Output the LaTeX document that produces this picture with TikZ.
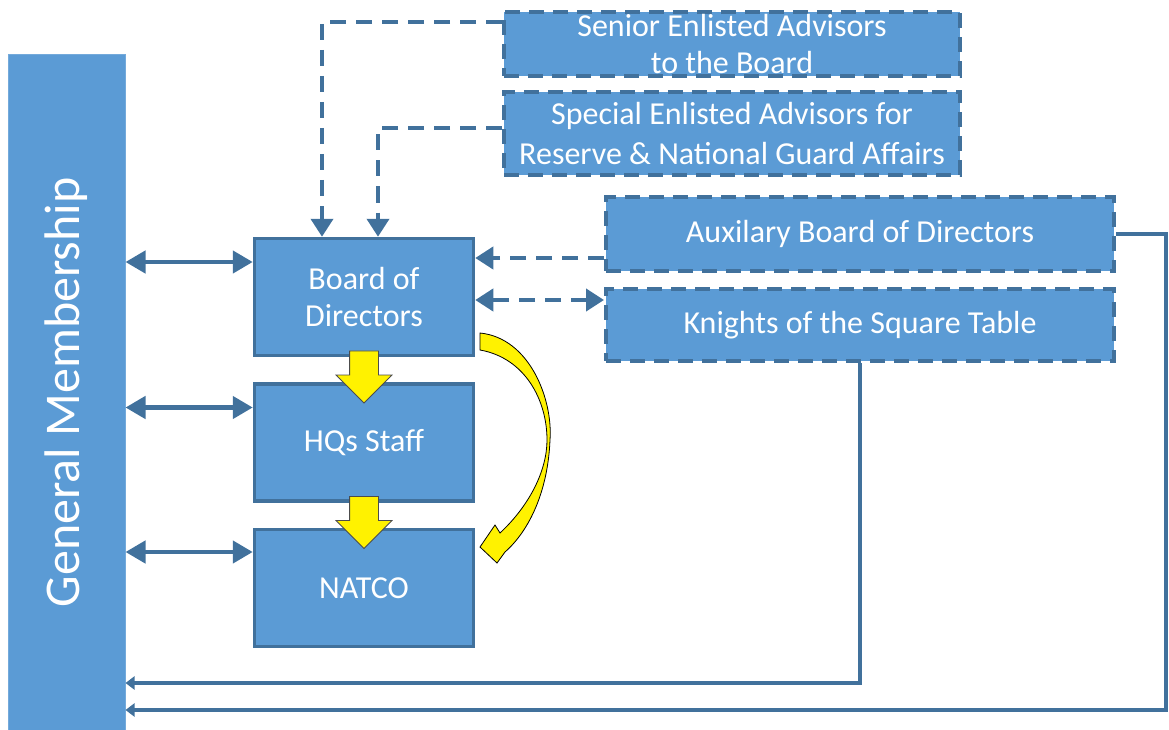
\documentclass[tikz,border=0pt]{standalone}
\usepackage{fontspec}
\setmainfont{Carlito}
\usepackage{tikz}
\usetikzlibrary{arrows.meta, positioning, shapes.arrows, calc}
\definecolor{boxfill}{HTML}{5B9BD5}
\definecolor{boxline}{HTML}{41719C}
\definecolor{linkblue}{HTML}{41719C}

\begin{document}
\begin{tikzpicture}[
		x=1pt, y=-1pt,
		member/.style={
			rectangle,
			draw=boxfill!85!white,
			line width=1pt,
			fill=boxfill,
			minimum width=117pt,
			minimum height=675pt,
			inner sep=0pt
		},
		unit/.style={
			rectangle,
			draw=boxline,
			line width=3.5pt,
			fill=boxfill,
			text=white,
			font=\fontsize{32}{37}\selectfont,
			minimum width=219pt,
			minimum height=117pt,
			inner sep=0pt,
			align=center
		},
		advisor/.style={
			unit,
			line width=4pt,
			dash pattern=on 15pt off 9pt
		},
		memberlink/.style={
			draw=linkblue,
			line width=4.5pt,
			{Triangle[length=20pt, width=22pt]}-{Triangle[length=20pt, width=22pt]}
		},
		dashlink/.style={
			draw=linkblue,
			line width=4pt,
			dash pattern=on 16pt off 10pt,
			-{Triangle[length=18pt, width=22pt]}
		},
		feedlink/.style={
			draw=linkblue,
			line width=4pt,
			-{Triangle[length=9pt, width=13pt]}
		},
		pushdown/.style={
			single arrow,
			shape border rotate=270,
			fill=yellow,
			draw=black!70,
			line width=0.8pt,
			inner sep=14pt,
			minimum height=52pt,
			single arrow head extend=13.5pt
		},
		curvearrow/.style={
			fill=yellow,
			draw=black,
			line width=0.8pt
		}
	]

	\useasboundingbox (0,0) rectangle (1169,730);

	\node[member] (gm) at (66.5,392.5) {};
	\node[rotate=90, text=white, font=\fontsize{50}{56}\selectfont] (gmtext) at (gm.center) {General Membership};

	\node[unit] (board) at (364,297) {Board of\\Directors};
	\node[unit, below=25pt of board] (hqs) {HQs Staff};
	\node[unit, below=25pt of hqs] (natco) {NATCO};

	\node[advisor, minimum width=456pt, minimum height=64pt] (senior) at (732,44) {Senior Enlisted Advisors\\to the Board};
	\node[advisor, minimum width=456pt, minimum height=83pt, below=12pt of senior, font=\fontsize{32}{40}\selectfont] (special) {Special Enlisted Advisors for\\Reserve \& National Guard Affairs};
	\node[advisor, minimum width=508pt, minimum height=74pt] (aux) at (860,234) {Auxilary Board of Directors};
	\node[advisor, minimum width=508pt, minimum height=72pt, below=14pt of aux] (knights) {Knights of the Square Table};

	% links to the general membership
	\draw[memberlink] ([yshift=35pt]board.west) -- ([yshift=35pt]board.west -| gm.east);
	\draw[memberlink] ([yshift=35pt]hqs.west) -- ([yshift=35pt]hqs.west -| gm.east);
	\draw[memberlink] ([yshift=36pt]natco.west) -- ([yshift=36pt]natco.west -| gm.east);

	% advisors
	\draw[dashlink] ([yshift=22pt]senior.west) -| ([xshift=-42pt]board.north);
	\draw[dashlink] ([yshift=5pt]special.west) -| ([xshift=14pt]board.north);
	\draw[dashlink] ([yshift=-24pt]aux.west) -- ([yshift=-24pt]aux.west -| board.east);
	\draw[dashlink, {Triangle[length=18pt, width=22pt]}-{Triangle[length=18pt, width=22pt]}] ([yshift=25pt]knights.west) -- ([yshift=25pt]knights.west -| board.east);

	% feedback lines
	\coordinate (kturn) at ([yshift=-320pt]knights.south);
	\coordinate (aturn) at (1166,710);
	\draw[feedlink] (knights.south) -- (kturn) -- (kturn -| gm.east);
	\draw[feedlink] (aux.east) -| (aturn) -- (aturn -| gm.east);

	% chain of command
	\node[pushdown] (b2h) at ($(board.south)!0.5!(hqs.north)$) {};
	\node[pushdown] (h2n) at ($(hqs.south)!0.5!(natco.north)$) {};
	\filldraw[curvearrow] (480,333) .. controls (530,338) and (553,400) .. (550,440)
		.. controls (548,490) and (530,530) .. (505,552) -- (497,563) -- (480,547)
		-- (495,525) -- (500,533) .. controls (530,505) and (547,470) .. (547,440)
		.. controls (547,400) and (525,358) .. (480,350) -- cycle;

\end{tikzpicture}
\end{document}
